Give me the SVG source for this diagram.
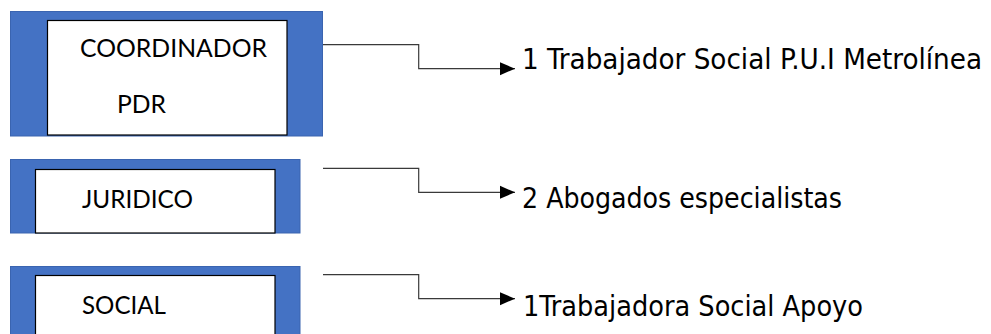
<svg xmlns="http://www.w3.org/2000/svg" width="991" height="334" viewBox="0 0 991 334">
  <style>
    .outer { fill: #4472C4; stroke: #3A64B0; stroke-width: 1; }
    .inner { fill: #FFFFFF; stroke: #000000; stroke-width: 1.2; }
    .lbl { font-family: Lato, "Liberation Sans", sans-serif; font-size: 25px; fill: #000000; }
    .out { font-family: "DejaVu Sans", Verdana, sans-serif; font-size: 28px; font-stretch: condensed; fill: #000000; }
    .conn { fill: none; stroke: #3A3A3A; stroke-width: 1.2; }
  </style>
  <defs>
    <marker id="arr" markerWidth="15" markerHeight="14" refX="15" refY="7" orient="auto" markerUnits="userSpaceOnUse">
      <path d="M0,0.5 L15,7 L0,13.5 z" fill="#000000"/>
    </marker>
  </defs>
  <rect width="991" height="334" fill="#FFFFFF"/>

  <g id="node-coordinador">
    <rect class="outer" x="10.5" y="11.5" width="312" height="124.5"/>
    <rect class="inner" x="47.5" y="20.5" width="239.5" height="114.5"/>
    <text class="lbl" x="80" y="57" textLength="187" lengthAdjust="spacingAndGlyphs">COORDINADOR</text>
    <text class="lbl" x="117" y="113" textLength="49" lengthAdjust="spacingAndGlyphs">PDR</text>
  </g>

  <g id="node-juridico">
    <rect class="outer" x="10.5" y="159.5" width="289.5" height="73.5"/>
    <rect class="inner" x="35.5" y="169.5" width="239.5" height="63.5"/>
    <text class="lbl" x="82" y="208" textLength="111" lengthAdjust="spacingAndGlyphs">JURIDICO</text>
  </g>

  <g id="node-social">
    <rect class="outer" x="10.5" y="266.5" width="289.5" height="80"/>
    <rect class="inner" x="35.5" y="275.5" width="239.5" height="70"/>
    <text class="lbl" x="82" y="314" textLength="84" lengthAdjust="spacingAndGlyphs">SOCIAL</text>
  </g>

  <g id="connectors">
    <path class="conn" d="M323,44.7 H418.7 V68.7 H515" marker-end="url(#arr)"/>
    <path class="conn" d="M323,168.3 H418.7 V192.3 H515" marker-end="url(#arr)"/>
    <path class="conn" d="M323,274.7 H418.7 V298.7 H515" marker-end="url(#arr)"/>
  </g>

  <g id="node-trabajador">
    <text class="out" x="522" y="69" textLength="460" lengthAdjust="spacingAndGlyphs">1 Trabajador Social P.U.I Metrolínea</text>
  </g>
  <g id="node-abogados">
    <text class="out" x="522" y="208" textLength="320" lengthAdjust="spacingAndGlyphs">2 Abogados especialistas</text>
  </g>
  <g id="node-trabajadora">
    <text class="out" x="523" y="316" textLength="340" lengthAdjust="spacingAndGlyphs">1Trabajadora Social Apoyo</text>
  </g>
</svg>
